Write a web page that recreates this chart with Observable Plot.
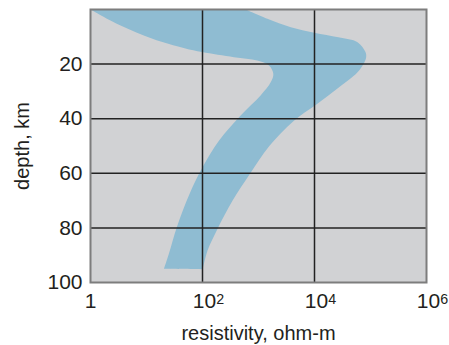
<!DOCTYPE html>
<html><head><meta charset="utf-8">
<script src="https://cdn.jsdelivr.net/npm/d3@7"></script>
<script src="https://cdn.jsdelivr.net/npm/@observablehq/plot@0.6"></script>
<style>body{margin:0;background:#fff}</style>
</head><body><div id="chart"></div>
<script>
// Lower (left) edge of the resistivity band, read top to bottom
const lowDepthKm      = [0, 5.9, 10.7, 14.2, 15.6, 17.5, 18.7, 20.5, 23.6, 26.6, 31.5, 38.8, 48.0, 57.8, 67.5, 79.7, 89.5, 95.0];
const lowResistivity  = [1, 3.44, 12.8, 47.8, 98.4, 364, 951, 1540, 1840, 1660, 1090, 480, 198, 100, 58.9, 34.9, 25.1, 20.5];
// Upper (right) edge of the resistivity band, read top to bottom
const highDepthKm     = [0, 3.4, 6.5, 8.5, 10.2, 12.0, 15.6, 17.4, 19.3, 23.0, 28.8, 34.8, 40.8, 50.0, 60.2, 70.0, 80.3, 88.3, 95.2];
const highResistivity = [590, 1440, 3780, 9880, 26700, 58700, 81300, 83800, 78000, 58700, 26400, 10800, 4240, 1560, 705, 345, 186, 123, 101];

const xTicks = [1, 1e2, 1e4, 1e6];
const xTickLabels = ["1", "10²", "10⁴", "10⁶"];
const xGrid = [1e2, 1e4];
const yTicks = [20, 40, 60, 80, 100];
const yGrid = [20, 40, 60, 80];
const xLabel = "resistivity, ohm-m";
const yLabel = "depth, km";

// closed outline: left edge downward, then right edge upward (bottom corners doubled to keep them sharp)
const left = lowDepthKm.map((d, i) => ({depth: d, r: lowResistivity[i]}));
const right = highDepthKm.map((d, i) => ({depth: d, r: highResistivity[i]})).reverse();
const outline = [...left, left[left.length - 1], right[0], ...right];

const plot = Plot.plot({
  width: 449, height: 345,
  marginLeft: 90, marginRight: 23, marginTop: 9, marginBottom: 63,
  style: {fontFamily: "'Liberation Sans', Arial, sans-serif", background: "#fff", color: "#231f20", overflow: "visible"},
  x: {type: "log", domain: [1, 1e6]},
  y: {domain: [0, 100], reverse: true},
  marks: [
    Plot.frame({fill: "#d1d2d4", stroke: null}),
    Plot.line(outline, {x: "r", y: "depth", fill: "#8fbcd2", stroke: "none", curve: "catmull-rom", clip: true}),
    Plot.gridX(xGrid, {stroke: "#222", strokeOpacity: 1, strokeWidth: 1.5}),
    Plot.gridY(yGrid, {stroke: "#222", strokeOpacity: 1, strokeWidth: 1.5}),
    Plot.frame({stroke: "#7d7d7d", strokeWidth: 2}),
    Plot.axisX({ticks: [1], tickFormat: d => xTickLabels[xTicks.indexOf(d)], tickSize: 0, tickPadding: 11, fontSize: 21, label: null}),
    Plot.axisX({ticks: [1e2, 1e4, 1e6], tickFormat: d => xTickLabels[xTicks.indexOf(d)], tickSize: 0, tickPadding: 11, fontSize: 21, dx: 6, label: null}),
    Plot.axisX({ticks: [], label: xLabel, labelAnchor: "center", labelArrow: "none", labelOffset: 57, fontSize: 20}),
    Plot.axisY({ticks: yTicks, tickSize: 0, tickPadding: 8, fontSize: 21, label: null}),
    Plot.axisY({ticks: [], label: yLabel, labelAnchor: "center", labelArrow: "none", labelOffset: 76, fontSize: 20})
  ]
});

// render the exponent as a raised, smaller tspan (text stays real text)
const sup = {"²": "2", "⁴": "4", "⁶": "6"};
plot.querySelectorAll("text").forEach(t => {
  const m = t.textContent.match(/^10([²⁴⁶])$/);
  if (m) {
    t.textContent = "10";
    const ts = document.createElementNS("http://www.w3.org/2000/svg", "tspan");
    ts.setAttribute("dy", "-0.33em");
    ts.setAttribute("font-size", "0.68em");
    ts.textContent = sup[m[1]];
    t.appendChild(ts);
  }
});
document.getElementById("chart").appendChild(plot);
</script>
</body></html>
